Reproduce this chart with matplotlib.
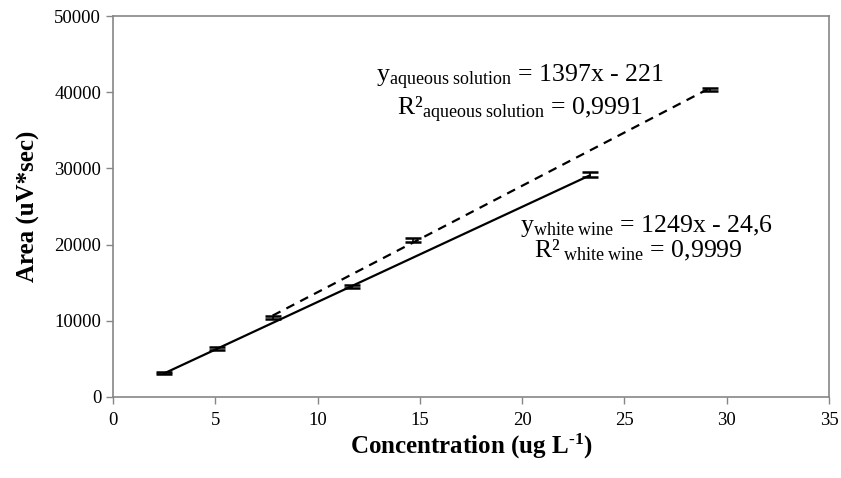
import numpy as np
import matplotlib
matplotlib.use("Agg")
import matplotlib.pyplot as plt

plt.rcParams['font.family'] = ['Liberation Serif', 'DejaVu Serif']
plt.rcParams['mathtext.fontset'] = 'custom'
plt.rcParams['mathtext.rm'] = 'Liberation Serif'
plt.rcParams['mathtext.it'] = 'Liberation Serif:italic'
plt.rcParams['mathtext.bf'] = 'Liberation Serif:bold'

# white wine calibration
wine_x = [2.5, 5.1, 11.7, 23.3]
wine_y = [3150, 6350, 14450, 29200]
wine_err = [150, 150, 200, 300]
wine_slope, wine_icpt = 1249, -24.6

# aqueous solution calibration
aq_x = [7.8, 14.65, 29.2]
aq_y = [10400, 20650, 40400]
aq_err = [200, 250, 200]
aq_slope, aq_icpt = 1397, -221

xticks = [0, 5, 10, 15, 20, 25, 30, 35]
yticks = [0, 10000, 20000, 30000, 40000, 50000]

grey = '#868686'
H = 478  # figure height in px, text placed in image coords

fig = plt.figure(figsize=(8.41, 4.78), dpi=100)
ax = fig.add_axes([0.1344, 0.1695, 0.8513, 0.797])

# trendlines
xw = np.array([min(wine_x), max(wine_x)])
ax.plot(xw, wine_slope * xw + wine_icpt, color='black', lw=1.6)
xa = np.array([min(aq_x), max(aq_x)])
ax.plot(xa, aq_slope * xa + aq_icpt, color='black', lw=1.6, ls=(0, (4, 3)))

# error bars
ax.errorbar(wine_x, wine_y, yerr=wine_err, fmt='none', ecolor='black',
            elinewidth=1.2, capsize=5.5, capthick=1.8)
ax.errorbar(aq_x, aq_y, yerr=aq_err, fmt='none', ecolor='black',
            elinewidth=1.2, capsize=5.5, capthick=1.8)

ax.set_xlim(0, 35)
ax.set_ylim(0, 50000)
ax.set_xticks(xticks)
ax.set_yticks(yticks)
ax.tick_params(colors=grey, labelcolor='black', labelsize=13.5, length=5, width=1)
ax.tick_params(axis='x', pad=6)
for s in ax.spines.values():
    s.set_color(grey)
    s.set_linewidth(1.2)

ax.set_xlabel('Concentration (ug L$^{\\mathbf{\u20101}}$)', fontsize=18,
              fontweight='bold', labelpad=2)
ax.set_ylabel('Area (uV*sec)', fontsize=18, fontweight='bold', labelpad=10)

eq_size = 18.5
ax.text(520, H - 82, r'$\mathrm{y}_{\mathrm{aqueous\ solution}}$ = 1397x - 221',
        transform=None, fontsize=eq_size, ha='center', va='baseline')
ax.text(520, H - 115, r'R²$_{\mathrm{aqueous\ solution}}$ = 0,9991',
        transform=None, fontsize=eq_size, ha='center', va='baseline')
ax.text(646, H - 232, r'$\mathrm{y}_{\mathrm{white\ wine}}$ = 1249x - 24,6',
        transform=None, fontsize=eq_size, ha='center', va='baseline')
ax.text(638, H - 257, r'R²$_{\mathrm{\ white\ wine}}$ = 0,9999',
        transform=None, fontsize=eq_size, ha='center', va='baseline')

fig.savefig('out.png', dpi=100)
